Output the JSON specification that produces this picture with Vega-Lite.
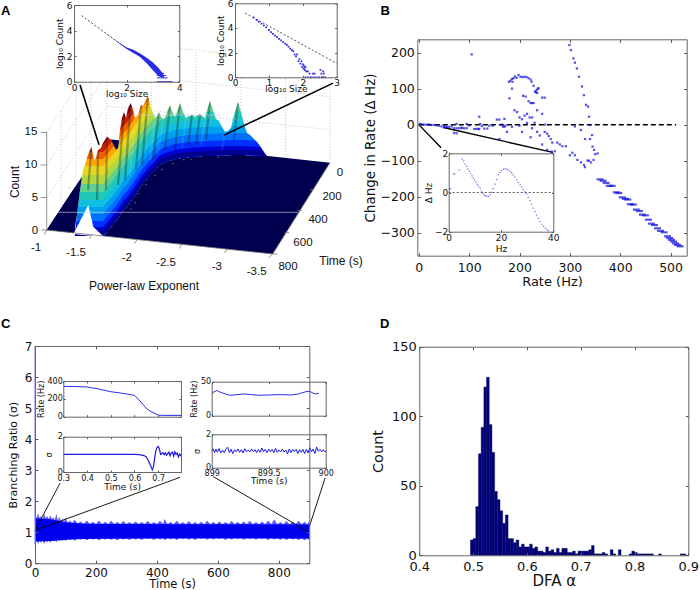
{"$schema":"https://vega.github.io/schema/vega-lite/v6.json","width":700,"height":590,"padding":0,"autosize":{"type":"none"},"background":"white","config":{"view":{"stroke":null},"font":"DejaVu Sans","axis":{"grid":false,"labelFlush":false,"labelOverlap":false,"labelBound":false,"domainColor":"#666666","tickColor":"#555555","labelColor":"#111111","titleColor":"#111111","titleFontWeight":"normal","labelFont":"DejaVu Sans","titleFont":"DejaVu Sans"}},
"datasets":{"surface":[{"x":-1.311,"top":-0.31,"base":-0.92},{"x":-1.333,"top":2.31,"base":-0.92},{"x":-1.367,"top":6.15,"base":-0.92},{"x":-1.4,"top":9.23,"base":-0.92},{"x":-1.422,"top":10,"base":-0.92},{"x":-1.444,"top":11.08,"base":-0.92},{"x":-1.467,"top":12,"base":-0.92},{"x":-1.494,"top":12.77,"base":-0.92},{"x":-1.522,"top":10.77,"base":-0.92},{"x":-1.544,"top":11.08,"base":-0.92},{"x":-1.567,"top":12.31,"base":-0.92},{"x":-1.6,"top":12.62,"base":-0.92},{"x":-1.622,"top":13.38,"base":-0.92},{"x":-1.667,"top":14.35,"base":-0.2},{"x":-1.7,"top":14,"base":0.34},{"x":-1.733,"top":13.69,"base":0.88},{"x":-1.767,"top":12.31,"base":1.42},{"x":-1.789,"top":12.62,"base":1.85},{"x":-1.811,"top":15.38,"base":2.31},{"x":-1.833,"top":17.23,"base":2.77},{"x":-1.856,"top":18.15,"base":3.23},{"x":-1.878,"top":17.23,"base":3.46},{"x":-1.9,"top":18.77,"base":3.85},{"x":-1.93,"top":19.54,"base":4.46},{"x":-1.956,"top":18.46,"base":4.92},{"x":-1.978,"top":17.23,"base":5.38},{"x":-2,"top":17.54,"base":5.85},{"x":-2.022,"top":18.15,"base":6.31},{"x":-2.044,"top":19.23,"base":6.77},{"x":-2.067,"top":19.08,"base":7.23},{"x":-2.089,"top":19.69,"base":7.54},{"x":-2.122,"top":20.62,"base":8.15},{"x":-2.156,"top":18.77,"base":8.62},{"x":-2.178,"top":18,"base":8.92},{"x":-2.2,"top":17.23,"base":9.23},{"x":-2.222,"top":17.54,"base":9.54},{"x":-2.244,"top":18.15,"base":10},{"x":-2.267,"top":17.38,"base":10.15},{"x":-2.289,"top":17.08,"base":10.31},{"x":-2.311,"top":17.23,"base":10.46},{"x":-2.333,"top":18.15,"base":10.54},{"x":-2.367,"top":19.23,"base":10.69},{"x":-2.389,"top":18.31,"base":10.77},{"x":-2.422,"top":17.38,"base":10.92},{"x":-2.444,"top":18.15,"base":10.97},{"x":-2.478,"top":19.54,"base":11.03},{"x":-2.511,"top":18.15,"base":11.11},{"x":-2.544,"top":17.23,"base":11.17},{"x":-2.578,"top":17.54,"base":11.23},{"x":-2.611,"top":17.69,"base":11.26},{"x":-2.644,"top":17.38,"base":11.29},{"x":-2.678,"top":17.69,"base":11.32},{"x":-2.7,"top":17.85,"base":11.34},{"x":-2.733,"top":17.38,"base":11.37},{"x":-2.756,"top":17.23,"base":11.38},{"x":-2.778,"top":18.46,"base":11.4},{"x":-2.811,"top":19.89,"base":11.42},{"x":-2.844,"top":18.46,"base":11.43},{"x":-2.878,"top":17.08,"base":11.45},{"x":-2.911,"top":16.77,"base":11.46},{"x":-2.944,"top":15.85,"base":11.48},{"x":-2.978,"top":15.12,"base":11.49},{"x":-3.011,"top":15.23,"base":11.5},{"x":-3.044,"top":15.69,"base":11.52},{"x":-3.078,"top":17.69,"base":11.54},{"x":-3.122,"top":19.74,"base":11.54},{"x":-3.156,"top":18.15,"base":11.54},{"x":-3.189,"top":16.31,"base":11.52},{"x":-3.222,"top":14.92,"base":11.51},{"x":-3.256,"top":14.62,"base":11.5},{"x":-3.3,"top":14,"base":11.48},{"x":-3.344,"top":13.38,"base":11.45},{"x":-3.389,"top":12.46,"base":11.42},{"x":-3.441,"top":11.38,"base":11.38}]},
"layer":[
{"encoding":{"x":{"field":"x","type":"quantitative","axis":null,"scale":{"domain":[-1,-3.5],"range":[47,272],"nice":false,"zero":false}},"y":{"field":"y","type":"quantitative","axis":null,"scale":{"domain":[0,15],"range":[230,132.5],"nice":false,"zero":false}}},
"layer":[
{"data":{"values":[{"x":-0.997,"y":0,"y2":0},{"x":-1.663,"y":14,"y2":-0.97},{"x":-3.508,"y":11.29,"y2":-3.69},{"x":-4.144,"y":10.35,"y2":10.35}]},"mark":{"type":"area","color":"#00004f"},"encoding":{"y2":{"field":"y2"}}},
{"data":{"name":"surface"},"mark":{"type":"area","color":"#8f0000","yOffset":-100},"encoding":{"y":{"field":"base"},"y2":{"field":"base"}}},
{"data":{"name":"surface"},"mark":{"type":"area","color":"#c82000","yOffset":-91},"encoding":{"y":{"field":"base"},"y2":{"field":"base"}}},
{"data":{"name":"surface"},"mark":{"type":"area","color":"#f06000","yOffset":-84},"encoding":{"y":{"field":"base"},"y2":{"field":"base"}}},
{"data":{"name":"surface"},"mark":{"type":"area","color":"#ffa800","yOffset":-77},"encoding":{"y":{"field":"base"},"y2":{"field":"base"}}},
{"data":{"name":"surface"},"mark":{"type":"area","color":"#e6d820","yOffset":-70},"encoding":{"y":{"field":"base"},"y2":{"field":"base"}}},
{"data":{"name":"surface"},"mark":{"type":"area","color":"#b0d840","yOffset":-61},"encoding":{"y":{"field":"base"},"y2":{"field":"base"}}},
{"data":{"name":"surface"},"mark":{"type":"area","color":"#60d090","yOffset":-52},"encoding":{"y":{"field":"base"},"y2":{"field":"base"}}},
{"data":{"name":"surface"},"mark":{"type":"area","color":"#20c8b8","yOffset":-44},"encoding":{"y":{"field":"base"},"y2":{"field":"base"}}},
{"data":{"name":"surface"},"mark":{"type":"area","color":"#10c0e0","yOffset":-36},"encoding":{"y":{"field":"base"},"y2":{"field":"base"}}},
{"data":{"name":"surface"},"mark":{"type":"area","color":"#00a0f0","yOffset":-29},"encoding":{"y":{"field":"base"},"y2":{"field":"base"}}},
{"data":{"name":"surface"},"mark":{"type":"area","color":"#0070ff","yOffset":-22},"encoding":{"y":{"field":"base"},"y2":{"field":"base"}}},
{"data":{"name":"surface"},"mark":{"type":"area","color":"#0030ff","yOffset":-15},"encoding":{"y":{"field":"base"},"y2":{"field":"base"}}},
{"data":{"name":"surface"},"mark":{"type":"area","color":"#0000d0","yOffset":-9},"encoding":{"y":{"field":"base"},"y2":{"field":"base"}}},
{"data":{"name":"surface"},"mark":{"type":"area","color":"#000090","yOffset":-5},"encoding":{"y":{"field":"base"},"y2":{"field":"base"}}},
{"data":{"values":[{"x":-1.494,"y":12.77,"x2":-1.456,"y2":6.15},{"x":-1.567,"y":12.31,"x2":-1.556,"y2":4.62},{"x":-1.667,"y":14.3,"x2":-1.656,"y2":6.15},{"x":-1.856,"y":18.15,"x2":-1.789,"y2":6.92},{"x":-1.93,"y":19.54,"x2":-1.867,"y2":7.69},{"x":-2.044,"y":19.23,"x2":-1.989,"y2":9.23},{"x":-2.122,"y":20.62,"x2":-2.056,"y2":10},{"x":-2.244,"y":18.15,"x2":-2.178,"y2":10.77},{"x":-2.367,"y":19.23,"x2":-2.311,"y2":12.31},{"x":-2.478,"y":19.54,"x2":-2.422,"y2":12.31},{"x":-2.611,"y":17.69,"x2":-2.567,"y2":13.08},{"x":-2.7,"y":17.85,"x2":-2.656,"y2":13.08},{"x":-2.811,"y":19.89,"x2":-2.767,"y2":13.85},{"x":-3.122,"y":19.74,"x2":-3.078,"y2":13.85}]},"mark":{"type":"rule","color":"#102030","strokeWidth":2.2,"opacity":0.35},"encoding":{"x2":{"field":"x2"},"y2":{"field":"y2"}}},
{"data":{"values":[{"x":-1.978,"y":17.23,"x2":-1.922,"y2":8.46},{"x":-2.2,"y":17.23,"x2":-2.144,"y2":10.77},{"x":-2.289,"y":17.08,"x2":-2.233,"y2":11.54},{"x":-2.544,"y":17.23,"x2":-2.5,"y2":12.62},{"x":-2.756,"y":17.23,"x2":-2.711,"y2":13.08},{"x":-2.978,"y":15.12,"x2":-2.944,"y2":12.31}]},"mark":{"type":"rule","color":"white","strokeWidth":2,"opacity":0.1},"encoding":{"x2":{"field":"x2"},"y2":{"field":"y2"}}},
{"data":{"name":"surface"},"mark":{"type":"area","color":"white"},"encoding":{"y":{"field":"top"},"y2":{"datum":28}}},
{"data":{"values":[{"x":-3.441,"y":11.6,"x2":-3.441,"y2":27.9},{"x":-1.311,"y":6.6,"x2":-1.311,"y2":16}]},"mark":{"type":"rule","color":"white","strokeWidth":1.6},"encoding":{"x2":{"field":"x2"},"y2":{"field":"y2"}}},
{"data":{"values":[{"x":-0.997,"y":0,"y2":0},{"x":-1.3,"y":6.37,"y2":-0.45},{"x":-1.333,"y":7.08,"y2":2.31},{"x":-1.367,"y":7.78,"y2":6.15},{"x":-1.389,"y":8.2,"y2":8.2}]},"mark":{"type":"area","color":"#00004f"},"encoding":{"y2":{"field":"y2"}}},
{"data":{"values":[{"x":-1.711,"y":13.94,"y2":13.94},{"x":-1.767,"y":13.85,"y2":12.31},{"x":-1.789,"y":13.82,"y2":12.62},{"x":-1.802,"y":13.8,"y2":13.8}]},"mark":{"type":"area","color":"#00004f"},"encoding":{"y2":{"field":"y2"}}},
{"data":{"values":[{"x":-1.3,"y":-0.42,"y2":-0.6},{"x":-1.459,"y":3.85,"y2":-0.85},{"x":-1.514,"y":0.51,"y2":-0.95},{"x":-1.622,"y":-0.92,"y2":-1.1}]},"mark":{"type":"area","color":"white"},"encoding":{"y2":{"field":"y2"}}},
{"data":{"values":[{"x":-1.156,"y":3.34,"x2":-1.156,"y2":18.46},{"x":-1.322,"y":6.83,"x2":-1.322,"y2":21.95},{"x":-1.489,"y":12.77,"x2":-1.489,"y2":25.46},{"x":-1.663,"y":14.3,"x2":-1.663,"y2":29.12},{"x":-0.997,"y":10,"x2":-1.663,"y2":24},{"x":-0.997,"y":4.92,"x2":-1.663,"y2":19.08},{"x":-0.997,"y":15.12,"x2":-1.663,"y2":29.08},{"x":-1.663,"y":19.08,"x2":-4.144,"y2":15.43},{"x":-1.663,"y":24.15,"x2":-4.144,"y2":20.51},{"x":-1.663,"y":29.08,"x2":-4.144,"y2":25.54},{"x":-2.16,"y":18.77,"x2":-2.16,"y2":28.35},{"x":-2.656,"y":17.54,"x2":-2.656,"y2":27.62},{"x":-3.153,"y":18.15,"x2":-3.153,"y2":26.89},{"x":-3.65,"y":11.08,"x2":-3.65,"y2":26.15},{"x":-4.144,"y":10.35,"x2":-4.144,"y2":25.43}]},"mark":{"type":"rule","color":"#b8b8b8","strokeWidth":0.8,"strokeDash":[1,2]},"encoding":{"x2":{"field":"x2"},"y2":{"field":"y2"}}},
{"data":{"values":[{"x":-1.122,"y":2.72,"x2":-3.789,"y2":2.72},{"x":-1.956,"y":17.69,"x2":-2.922,"y2":17.69}]},"mark":{"type":"rule","color":"#d0d0e0","strokeWidth":0.8,"opacity":0.8},"encoding":{"x2":{"field":"x2"},"y2":{"field":"y2"}}},
{"data":{"values":[{"x":-0.997,"y":0,"x2":-3.508,"y2":-3.69},{"x":-3.508,"y":-3.69,"x2":-4.144,"y2":10.35},{"x":-0.997,"y":0,"x2":-0.997,"y2":15.12},{"x":-0.997,"y":0,"x2":-0.94,"y2":0},{"x":-0.997,"y":5,"x2":-0.93,"y2":5},{"x":-0.997,"y":10,"x2":-0.93,"y2":10},{"x":-0.997,"y":15,"x2":-0.93,"y2":15},{"x":-0.997,"y":0,"x2":-0.97,"y2":-0.7},{"x":-1.5,"y":-0.75,"x2":-1.47,"y2":-1.35},{"x":-2,"y":-1.5,"x2":-1.97,"y2":-2.1},{"x":-2.5,"y":-2.2,"x2":-2.47,"y2":-2.85},{"x":-3,"y":-2.95,"x2":-2.97,"y2":-3.55},{"x":-3.508,"y":-3.69,"x2":-3.46,"y2":-4.3},{"x":-3.508,"y":-3.69,"x2":-3.56,"y2":-3.69},{"x":-3.64,"y":-0.4,"x2":-3.69,"y2":-0.4},{"x":-3.78,"y":3,"x2":-3.83,"y2":3},{"x":-3.92,"y":6.2,"x2":-3.97,"y2":6.2}]},"mark":{"type":"rule","color":"#777777","strokeWidth":0.8},"encoding":{"x2":{"field":"x2"},"y2":{"field":"y2"}}},
{"data":{"values":[{"x":-1.25,"y":6.5},{"x":-2.02,"y":5.6},{"x":-2.1,"y":7},{"x":-2.2,"y":8.4},{"x":-2.28,"y":9.3},{"x":-2.4,"y":10.2},{"x":-2.52,"y":10.8},{"x":-2.6,"y":10.9},{"x":-2.9,"y":11.2},{"x":-1.98,"y":4.2},{"x":-1.93,"y":3.2}]},"mark":{"type":"circle","color":"#7a90c0","size":2,"opacity":0.8},"encoding":{}},
{"data":{"values":[{"x":-1.367,"y":22.3,"x2":-1.578,"y2":13.1},{"x":-4.178,"y":22.6,"x2":-2.967,"y2":14.6}]},"mark":{"type":"rule","color":"black","strokeWidth":1.6},"encoding":{"x2":{"field":"x2"},"y2":{"field":"y2"}}},
{"data":{"values":[{"x":-0.878,"y":-2.72,"t":"-1"},{"x":-1.322,"y":-3.49,"t":"-1.5"},{"x":-1.886,"y":-4.26,"t":"-2"},{"x":-2.322,"y":-5.03,"t":"-2.5"},{"x":-2.886,"y":-5.74,"t":"-3"},{"x":-3.33,"y":-6.42,"t":"-3.5"},{"x":-3.678,"y":-5.65,"t":"800"},{"x":-3.844,"y":-2,"t":"600"},{"x":-4.011,"y":1.54,"t":"400"},{"x":-4.167,"y":5.08,"t":"200"},{"x":-4.256,"y":8.77,"t":"0"},{"x":-0.822,"y":15.08,"t":"15"},{"x":-0.822,"y":10,"t":"10"},{"x":-0.867,"y":4.92,"t":"5"},{"x":-0.867,"y":-0.15,"t":"0"}]},"mark":{"type":"text","font":"Liberation Sans","fontSize":11.5,"color":"#111111"},"encoding":{"text":{"field":"t"}}},
{"data":{"values":[{"x":-4.267,"y":-4.77,"t":"Time (s)"},{"x":-2.078,"y":-8.62,"t":"Power-law Exponent"}]},"mark":{"type":"text","font":"Liberation Sans","fontSize":12,"color":"#111111"},"encoding":{"text":{"field":"t"}}},
{"data":{"values":[{"x":-0.644,"y":7.38,"t":"Count"}]},"mark":{"type":"text","font":"Liberation Sans","fontSize":12,"color":"#111111","angle":270},"encoding":{"text":{"field":"t"}}}
]},
{"encoding":{"x":{"field":"x","type":"quantitative","scale":{"domain":[0,4],"range":[74,179.3],"nice":false,"zero":false},"axis":{"zindex":1,"orient":"bottom","offset":-508.3,"values":[0,2,4],"tickSize":-2,"labelPadding":4,"labelFontSize":9,"title":"log₁₀ Size","titleFontSize":9,"titlePadding":-3}},"y":{"field":"y","type":"quantitative","scale":{"domain":[0,6],"range":[81.7,5],"nice":false,"zero":false},"axis":{"zindex":1,"orient":"left","offset":-74,"values":[0,2,4,6],"tickSize":-2,"labelPadding":4,"labelFontSize":9,"title":"log₁₀ Count","titleFontSize":9,"titlePadding":2}}},
"layer":[
{"data":{"values":[{"x":0,"y":0,"x2":4,"y2":6}]},"mark":{"type":"rect","color":"white"},"encoding":{"x2":{"field":"x2"},"y2":{"field":"y2"}}},
{"data":{"values":[{"x":0.29,"y":5.17},{"x":1,"y":4.1},{"x":2,"y":2.61}]},"mark":{"type":"line","color":"#222222","strokeWidth":0.8,"strokeDash":[2,2]},"encoding":{}},
{"data":{"values":[{"x":0.9,"y":4.22,"y2":4.22},{"x":1.5,"y":3.35,"y2":3.33},{"x":2,"y":2.68,"y2":2.56},{"x":2.25,"y":2.5,"y2":2.25},{"x":2.5,"y":2.22,"y2":1.95},{"x":2.76,"y":1.88,"y2":1.45},{"x":3,"y":1.5,"y2":0.9},{"x":3.2,"y":1.1,"y2":0.45},{"x":3.35,"y":0.72,"y2":0.32},{"x":3.42,"y":0.4,"y2":0.3}]},"mark":{"type":"area","color":"#2a2ae6"},"encoding":{"y2":{"field":"y2"}}},
{"data":{"values":[{"x":3.15,"y":0,"g":"a"},{"x":3.75,"y":0,"g":"a"},{"x":3.15,"y":0.3,"g":"b"},{"x":3.55,"y":0.3,"g":"b"},{"x":3.15,"y":0.48,"g":"c"},{"x":3.5,"y":0.48,"g":"c"},{"x":3.15,"y":0.65,"g":"d"},{"x":3.42,"y":0.65,"g":"d"}]},"mark":{"type":"line","color":"#2a2ae6","strokeWidth":1},"encoding":{"detail":{"field":"g"}}}
]},
{"data":{"values":[{"x":0,"y":0}]},"mark":{"type":"point","opacity":0},"encoding":{"x":{"field":"x","type":"quantitative","scale":{"domain":[0,4],"range":[74,179.3],"nice":false,"zero":false},"axis":{"zindex":1,"orient":"top","offset":-5,"values":[0,2,4],"tickSize":-2,"labels":false,"title":null}},"y":{"field":"y","type":"quantitative","scale":{"domain":[0,6],"range":[81.7,5],"nice":false,"zero":false},"axis":{"zindex":1,"orient":"right","offset":-520.7,"values":[0,2,4,6],"tickSize":-2,"labels":false,"title":null}}}},
{"encoding":{"x":{"field":"x","type":"quantitative","scale":{"domain":[0,3],"range":[235,336.7],"nice":false,"zero":false},"axis":{"zindex":1,"orient":"bottom","offset":-512.7,"values":[0,1,2,3],"tickSize":-2,"labelPadding":3,"labelFontSize":9,"title":"log₁₀ Size","titleFontSize":9,"titlePadding":-3}},"y":{"field":"y","type":"quantitative","scale":{"domain":[0,6],"range":[77.3,3.3],"nice":false,"zero":false},"axis":{"zindex":1,"orient":"left","offset":-235,"values":[0,2,4,6],"tickSize":-2,"labelPadding":4,"labelFontSize":9,"title":"log₁₀ Count","titleFontSize":9,"titlePadding":2}}},
"layer":[
{"data":{"values":[{"x":0,"y":0,"x2":3,"y2":6}]},"mark":{"type":"rect","color":"white"},"encoding":{"x2":{"field":"x2"},"y2":{"field":"y2"}}},
{"data":{"values":[{"x":0.3,"y":5.2},{"x":3,"y":1.13}]},"mark":{"type":"line","color":"#222222","strokeWidth":0.8,"strokeDash":[2,2]},"encoding":{}},
{"data":{"values":[{"x":0.55,"y":4.85},{"x":0.64,"y":4.65},{"x":0.7,"y":4.5},{"x":0.78,"y":4.35},{"x":0.85,"y":4.2},{"x":0.92,"y":4.05},{"x":1,"y":3.82},{"x":1.06,"y":3.67},{"x":1.12,"y":3.52},{"x":1.18,"y":3.38},{"x":1.24,"y":3.25},{"x":1.3,"y":3.12},{"x":1.36,"y":3},{"x":1.42,"y":2.85},{"x":1.48,"y":2.72},{"x":1.53,"y":2.62},{"x":1.58,"y":2.48},{"x":1.63,"y":2.32},{"x":1.68,"y":2.2},{"x":1.72,"y":2.1},{"x":1.76,"y":1.85},{"x":1.8,"y":1.7},{"x":1.83,"y":1.85},{"x":1.87,"y":1.3},{"x":1.9,"y":1.48},{"x":1.93,"y":1.1},{"x":1.96,"y":1.3},{"x":1.98,"y":0.85},{"x":2,"y":1.05},{"x":2.02,"y":0.7},{"x":2.03,"y":0.95},{"x":2.05,"y":0.78},{"x":2.06,"y":0.6},{"x":2.08,"y":0.85},{"x":2.1,"y":0.48},{"x":2.15,"y":0.48},{"x":2.2,"y":0.3},{"x":2.3,"y":0.3},{"x":2.35,"y":0.3},{"x":2.08,"y":0},{"x":2.16,"y":0},{"x":2.24,"y":0},{"x":2.32,"y":0},{"x":2.4,"y":0},{"x":2.48,"y":0},{"x":2.56,"y":0},{"x":2.6,"y":0},{"x":2.66,"y":0},{"x":2.55,"y":0.3},{"x":2.52,"y":0.6},{"x":2.6,"y":0.48},{"x":2.62,"y":0.3}]},"mark":{"type":"square","color":"#1515e8","size":3,"opacity":0.9},"encoding":{}}
]},
{"data":{"values":[{"x":0,"y":0}]},"mark":{"type":"point","opacity":0},"encoding":{"x":{"field":"x","type":"quantitative","scale":{"domain":[0,3],"range":[235,336.7],"nice":false,"zero":false},"axis":{"zindex":1,"orient":"top","offset":-3.3,"values":[0,1,2,3],"tickSize":-2,"labels":false,"title":null}},"y":{"field":"y","type":"quantitative","scale":{"domain":[0,6],"range":[77.3,3.3],"nice":false,"zero":false},"axis":{"zindex":1,"orient":"right","offset":-363.3,"values":[0,2,4,6],"tickSize":-2,"labels":false,"title":null}}}},
{"encoding":{"x":{"field":"x","type":"quantitative","scale":{"domain":[-3,532],"range":[417.3,686.7],"nice":false,"zero":false},"axis":{"zindex":1,"orient":"bottom","offset":-334.3,"values":[0,100,200,300,400,500],"tickSize":-3,"labelPadding":9,"labelFontSize":12.5,"title":"Rate (Hz)","titleFontSize":13,"titlePadding":1}},"y":{"field":"y","type":"quantitative","scale":{"domain":[-364,237],"range":[255.7,39.3],"nice":false,"zero":false},"axis":{"zindex":1,"orient":"left","offset":-417.3,"values":[-300,-200,-100,0,100,200],"tickSize":-3,"labelPadding":6,"labelFontSize":12.5,"title":"Change in Rate (Δ Hz)","titleFontSize":13.5,"titlePadding":2}}},
"layer":[
{"data":{"values":[{"x":0,"y":0,"x2":511,"y2":0}]},"mark":{"type":"rule","color":"black","strokeWidth":1.5,"strokeDash":[5,3]},"encoding":{"x2":{"field":"x2"},"y2":{"field":"y2"}}},
{"data":{"values":[{"x":0,"y":0,"x2":44.3,"y2":-64},{"x":49,"y":-8,"x2":266,"y2":-77}]},"mark":{"type":"rule","color":"black","strokeWidth":1.4},"encoding":{"x2":{"field":"x2"},"y2":{"field":"y2"}}},
{"data":{"values":[{"x":105,"y":195},{"x":2,"y":2},{"x":5,"y":1},{"x":10,"y":0},{"x":15,"y":0},{"x":20,"y":0},{"x":25,"y":-1},{"x":30,"y":-1},{"x":35,"y":-2},{"x":40,"y":-3},{"x":45,"y":-5},{"x":50,"y":-7},{"x":55,"y":-6},{"x":60,"y":-6},{"x":65,"y":-5},{"x":70,"y":-10},{"x":75,"y":-10},{"x":80,"y":-10},{"x":85,"y":-10},{"x":90,"y":-10},{"x":95,"y":-10},{"x":55,"y":-8},{"x":85,"y":-8},{"x":110,"y":-12},{"x":114,"y":-12},{"x":118,"y":-12},{"x":120,"y":-12},{"x":100,"y":-2},{"x":125,"y":-4},{"x":130,"y":-11},{"x":136,"y":-11},{"x":140,"y":-3},{"x":147,"y":-3},{"x":122,"y":2},{"x":120,"y":22},{"x":155,"y":14},{"x":160,"y":14},{"x":170,"y":16},{"x":167,"y":-5},{"x":165,"y":0},{"x":170,"y":-6},{"x":175,"y":-20},{"x":160,"y":-40},{"x":172,"y":-3},{"x":70,"y":-23},{"x":75,"y":-24},{"x":95,"y":2},{"x":75,"y":2},{"x":50,"y":-2},{"x":180,"y":73},{"x":185,"y":100},{"x":190,"y":40},{"x":195,"y":35},{"x":200,"y":20},{"x":205,"y":15},{"x":210,"y":25},{"x":215,"y":30},{"x":220,"y":20},{"x":207,"y":80},{"x":212,"y":78},{"x":218,"y":65},{"x":222,"y":60},{"x":225,"y":60},{"x":228,"y":60},{"x":225,"y":20},{"x":235,"y":40},{"x":245,"y":30},{"x":250,"y":75},{"x":245,"y":75},{"x":232,"y":90},{"x":236,"y":100},{"x":225,"y":-10},{"x":235,"y":-20},{"x":222,"y":-35},{"x":205,"y":-20},{"x":240,"y":-30},{"x":250,"y":-20},{"x":255,"y":-25},{"x":258,"y":-32},{"x":262,"y":-40},{"x":245,"y":-55},{"x":265,"y":-50},{"x":255,"y":-70},{"x":185,"y":-6},{"x":200,"y":-3},{"x":215,"y":5},{"x":230,"y":5},{"x":250,"y":0},{"x":179,"y":119},{"x":182,"y":122},{"x":185,"y":127},{"x":188,"y":129},{"x":186,"y":119},{"x":191,"y":134},{"x":194,"y":130},{"x":198,"y":138},{"x":202,"y":133},{"x":206,"y":132},{"x":210,"y":133},{"x":214,"y":132},{"x":218,"y":129},{"x":222,"y":125},{"x":224,"y":119},{"x":228,"y":108},{"x":231,"y":92},{"x":234,"y":96},{"x":238,"y":101},{"x":235,"y":88},{"x":299,"y":221},{"x":302,"y":207},{"x":307,"y":184},{"x":310,"y":172},{"x":314,"y":156},{"x":318,"y":133},{"x":324,"y":106},{"x":328,"y":82},{"x":332,"y":55},{"x":336,"y":50},{"x":338,"y":22},{"x":340,"y":-1},{"x":344,"y":-29},{"x":345,"y":-61},{"x":264,"y":-75},{"x":270,"y":-74},{"x":275,"y":-50},{"x":280,"y":-55},{"x":285,"y":-60},{"x":292,"y":-60},{"x":300,"y":-85},{"x":305,"y":-78},{"x":310,"y":-85},{"x":315,"y":-98},{"x":322,"y":-105},{"x":328,"y":-112},{"x":330,"y":-118},{"x":335,"y":-100},{"x":338,"y":-100},{"x":342,"y":-105},{"x":347,"y":-98},{"x":350,"y":-82},{"x":348,"y":-70},{"x":355,"y":-80},{"x":340,"y":-40},{"x":330,"y":-40},{"x":310,"y":-5},{"x":322,"y":-15}]},"mark":{"type":"square","color":"#0a0ae0","size":5},"encoding":{}},
{"data":{"values":[{"x":360,"y":-152},{"x":366,"y":-156},{"x":372,"y":-162},{"x":378,"y":-170},{"x":384,"y":-170},{"x":392,"y":-188},{"x":397,"y":-190},{"x":404,"y":-202},{"x":410,"y":-206},{"x":415,"y":-208},{"x":420,"y":-221},{"x":426,"y":-222},{"x":432,"y":-236},{"x":438,"y":-240},{"x":444,"y":-250},{"x":450,"y":-252},{"x":456,"y":-264},{"x":462,"y":-275},{"x":468,"y":-279},{"x":474,"y":-288},{"x":480,"y":-295},{"x":487,"y":-299},{"x":494,"y":-310},{"x":498,"y":-315},{"x":502,"y":-320},{"x":506,"y":-325},{"x":510,"y":-330},{"x":514,"y":-334},{"x":519,"y":-338}]},"mark":{"type":"tick","orient":"horizontal","color":"#0a0ae0","size":7,"thickness":2.2},"encoding":{}}
]},
{"data":{"values":[{"x":0,"y":0}]},"mark":{"type":"point","opacity":0},"encoding":{"x":{"field":"x","type":"quantitative","scale":{"domain":[-3,532],"range":[417.3,686.7],"nice":false,"zero":false},"axis":{"zindex":1,"orient":"top","offset":-39.3,"values":[0,100,200,300,400,500],"tickSize":-3,"labels":false,"title":null}},"y":{"field":"y","type":"quantitative","scale":{"domain":[-364,237],"range":[255.7,39.3],"nice":false,"zero":false},"axis":{"zindex":1,"orient":"right","offset":-13.3,"values":[-300,-200,-100,0,100,200],"tickSize":-3,"labels":false,"title":null}}}},
{"encoding":{"x":{"field":"x","type":"quantitative","scale":{"domain":[0,40],"range":[448.7,553.3],"nice":false,"zero":false},"axis":{"zindex":1,"orient":"bottom","offset":-358.3,"values":[0,20,40],"tickSize":-2,"labelPadding":4,"labelFontSize":9,"title":"Hz","titleFontSize":9,"titlePadding":2}},"y":{"field":"y","type":"quantitative","scale":{"domain":[-2,2],"range":[231.7,153.3],"nice":false,"zero":false},"axis":{"zindex":1,"orient":"left","offset":-448.7,"values":[-2,0,2],"tickSize":-2,"labelPadding":3,"labelFontSize":9,"title":"Δ Hz","titleFontSize":9,"titlePadding":1}}},
"layer":[
{"data":{"values":[{"x":0,"y":-2,"x2":40,"y2":2}]},"mark":{"type":"rect","color":"white"},"encoding":{"x2":{"field":"x2"},"y2":{"field":"y2"}}},
{"data":{"values":[{"x":0,"y":0,"x2":40,"y2":0}]},"mark":{"type":"rule","color":"#333333","strokeWidth":0.8,"strokeDash":[2,2]},"encoding":{"x2":{"field":"x2"},"y2":{"field":"y2"}}},
{"data":{"values":[{"x":0.3,"y":0.19},{"x":0.7,"y":0.19},{"x":1.8,"y":0.95},{"x":2.4,"y":0.95},{"x":4,"y":1.16},{"x":5.2,"y":1.7},{"x":5.7,"y":1.6},{"x":6.3,"y":1.45},{"x":6.9,"y":1.33},{"x":7.4,"y":1.2},{"x":7.9,"y":1.08},{"x":8.4,"y":0.97},{"x":8.9,"y":0.85},{"x":9.4,"y":0.73},{"x":9.9,"y":0.63},{"x":10.4,"y":0.52},{"x":10.9,"y":0.42},{"x":11.4,"y":0.32},{"x":12,"y":0.22},{"x":12.5,"y":0.08},{"x":13,"y":-0.03},{"x":13.5,"y":-0.12},{"x":14,"y":-0.17},{"x":14.6,"y":-0.2},{"x":15.2,"y":-0.2},{"x":15.8,"y":-0.12},{"x":16.4,"y":0},{"x":17,"y":0.2},{"x":17.7,"y":0.43},{"x":18.3,"y":0.66},{"x":19,"y":0.9},{"x":19.6,"y":1.02},{"x":20.2,"y":1.12},{"x":20.9,"y":1.19},{"x":21.5,"y":1.2},{"x":22.2,"y":1.19},{"x":22.8,"y":1.16},{"x":23.5,"y":1.08},{"x":24.1,"y":1},{"x":24.7,"y":0.9},{"x":25.3,"y":0.78},{"x":26,"y":0.65},{"x":26.6,"y":0.52},{"x":27.3,"y":0.39},{"x":27.9,"y":0.27},{"x":28.5,"y":0.15},{"x":29.2,"y":0.03},{"x":29.8,"y":-0.07},{"x":30.4,"y":-0.25},{"x":31,"y":-0.42},{"x":31.7,"y":-0.6},{"x":32.4,"y":-0.8},{"x":33,"y":-0.98},{"x":33.6,"y":-1.15},{"x":34.3,"y":-1.32},{"x":34.9,"y":-1.48},{"x":35.6,"y":-1.62},{"x":36.3,"y":-1.73},{"x":37,"y":-1.82},{"x":37.6,"y":-1.9},{"x":38.1,"y":-1.94}]},"mark":{"type":"square","color":"#3030e0","size":1.5},"encoding":{}}
]},
{"data":{"values":[{"x":0,"y":0}]},"mark":{"type":"point","opacity":0},"encoding":{"x":{"field":"x","type":"quantitative","scale":{"domain":[0,40],"range":[448.7,553.3],"nice":false,"zero":false},"axis":{"zindex":1,"orient":"top","offset":-153.3,"values":[0,20,40],"tickSize":-2,"labels":false,"title":null}},"y":{"field":"y","type":"quantitative","scale":{"domain":[-2,2],"range":[231.7,153.3],"nice":false,"zero":false},"axis":{"zindex":1,"orient":"right","offset":-146.7,"values":[-2,0,2],"tickSize":-2,"labels":false,"title":null}}}},
{"encoding":{"x":{"field":"x","type":"quantitative","scale":{"domain":[0,900],"range":[35,309.3],"nice":false,"zero":false},"axis":{"zindex":1,"orient":"bottom","offset":-26.7,"values":[0,200,400,600,800],"tickSize":-3,"labelPadding":7,"labelFontSize":12,"title":"Time (s)","titleFontSize":11.5,"titlePadding":0}},"y":{"field":"y","type":"quantitative","scale":{"domain":[0,7],"range":[563.3,346],"nice":false,"zero":false},"axis":{"zindex":1,"orient":"left","offset":-35,"values":[0,1,2,3,4,5,6,7],"tickSize":-3,"labelPadding":6,"labelFontSize":12,"title":"Branching Ratio (σ)","titleFontSize":11,"titlePadding":6}}},
"layer":[
{"data":{"values":[{"x":0,"y":0.6,"x2":0,"y2":7}]},"mark":{"type":"rule","color":"#7070ff","strokeWidth":1},"encoding":{"x2":{"field":"x2"},"y2":{"field":"y2"}}},
{"data":{"values":[{"x":1,"y":1.55,"y2":0.66},{"x":5,"y":1.44,"y2":0.74},{"x":10,"y":1.62,"y2":0.62},{"x":15,"y":1.45,"y2":0.73},{"x":20,"y":1.52,"y2":0.66},{"x":25,"y":1.43,"y2":0.74},{"x":30,"y":1.6,"y2":0.62},{"x":35,"y":1.44,"y2":0.73},{"x":40,"y":1.52,"y2":0.68},{"x":45,"y":1.43,"y2":0.74},{"x":50,"y":1.55,"y2":0.65},{"x":55,"y":1.42,"y2":0.75},{"x":60,"y":1.48,"y2":0.7},{"x":65,"y":1.4,"y2":0.75},{"x":70,"y":1.6,"y2":0.68},{"x":75,"y":1.38,"y2":0.76},{"x":80,"y":1.5,"y2":0.71},{"x":85,"y":1.35,"y2":0.77},{"x":90,"y":1.45,"y2":0.72},{"x":95,"y":1.33,"y2":0.78},{"x":100,"y":1.47,"y2":0.72},{"x":108,"y":1.3,"y2":0.79},{"x":115,"y":1.38,"y2":0.75},{"x":122,"y":1.29,"y2":0.8},{"x":130,"y":1.4,"y2":0.73},{"x":140,"y":1.28,"y2":0.8},{"x":150,"y":1.35,"y2":0.76},{"x":160,"y":1.27,"y2":0.8},{"x":170,"y":1.38,"y2":0.74},{"x":180,"y":1.27,"y2":0.8},{"x":190,"y":1.34,"y2":0.77},{"x":200,"y":1.27,"y2":0.8},{"x":210,"y":1.38,"y2":0.74},{"x":220,"y":1.27,"y2":0.8},{"x":230,"y":1.34,"y2":0.77},{"x":240,"y":1.27,"y2":0.8},{"x":250,"y":1.37,"y2":0.76},{"x":260,"y":1.27,"y2":0.8},{"x":270,"y":1.33,"y2":0.74},{"x":280,"y":1.27,"y2":0.8},{"x":290,"y":1.36,"y2":0.77},{"x":300,"y":1.27,"y2":0.8},{"x":310,"y":1.33,"y2":0.75},{"x":320,"y":1.27,"y2":0.81},{"x":330,"y":1.35,"y2":0.77},{"x":340,"y":1.27,"y2":0.81},{"x":350,"y":1.33,"y2":0.75},{"x":360,"y":1.27,"y2":0.81},{"x":370,"y":1.36,"y2":0.78},{"x":380,"y":1.27,"y2":0.81},{"x":390,"y":1.33,"y2":0.75},{"x":400,"y":1.27,"y2":0.81},{"x":410,"y":1.37,"y2":0.77},{"x":420,"y":1.27,"y2":0.81},{"x":425,"y":1.43,"y2":0.74},{"x":435,"y":1.27,"y2":0.81},{"x":445,"y":1.33,"y2":0.77},{"x":455,"y":1.26,"y2":0.81},{"x":465,"y":1.37,"y2":0.75},{"x":475,"y":1.26,"y2":0.81},{"x":485,"y":1.33,"y2":0.78},{"x":495,"y":1.26,"y2":0.81},{"x":505,"y":1.36,"y2":0.76},{"x":515,"y":1.26,"y2":0.81},{"x":525,"y":1.33,"y2":0.75},{"x":535,"y":1.26,"y2":0.81},{"x":545,"y":1.34,"y2":0.78},{"x":555,"y":1.26,"y2":0.81},{"x":565,"y":1.37,"y2":0.76},{"x":575,"y":1.26,"y2":0.81},{"x":585,"y":1.33,"y2":0.77},{"x":595,"y":1.26,"y2":0.81},{"x":605,"y":1.35,"y2":0.78},{"x":615,"y":1.26,"y2":0.81},{"x":625,"y":1.33,"y2":0.75},{"x":635,"y":1.26,"y2":0.81},{"x":645,"y":1.36,"y2":0.77},{"x":655,"y":1.26,"y2":0.81},{"x":665,"y":1.33,"y2":0.78},{"x":675,"y":1.26,"y2":0.81},{"x":685,"y":1.35,"y2":0.76},{"x":695,"y":1.26,"y2":0.81},{"x":705,"y":1.37,"y2":0.78},{"x":715,"y":1.26,"y2":0.81},{"x":725,"y":1.33,"y2":0.76},{"x":735,"y":1.26,"y2":0.81},{"x":745,"y":1.35,"y2":0.78},{"x":755,"y":1.26,"y2":0.81},{"x":765,"y":1.38,"y2":0.75},{"x":775,"y":1.26,"y2":0.81},{"x":785,"y":1.41,"y2":0.77},{"x":795,"y":1.26,"y2":0.81},{"x":805,"y":1.33,"y2":0.76},{"x":815,"y":1.26,"y2":0.81},{"x":825,"y":1.36,"y2":0.75},{"x":835,"y":1.26,"y2":0.81},{"x":845,"y":1.34,"y2":0.77},{"x":855,"y":1.26,"y2":0.8},{"x":865,"y":1.37,"y2":0.75},{"x":875,"y":1.26,"y2":0.8},{"x":885,"y":1.34,"y2":0.74},{"x":893,"y":1.25,"y2":0.8},{"x":900,"y":1.36,"y2":0.75}]},"mark":{"type":"area","color":"#5a5aff"},"encoding":{"y2":{"field":"y2"}}},
{"data":{"values":[{"x":1,"y":1.45,"y2":0.7},{"x":50,"y":1.42,"y2":0.72},{"x":100,"y":1.32,"y2":0.76},{"x":150,"y":1.28,"y2":0.78},{"x":200,"y":1.27,"y2":0.79},{"x":300,"y":1.27,"y2":0.8},{"x":500,"y":1.26,"y2":0.81},{"x":700,"y":1.26,"y2":0.81},{"x":900,"y":1.25,"y2":0.8}]},"mark":{"type":"area","color":"#0000f0"},"encoding":{"y2":{"field":"y2"}}},
{"data":{"values":[{"x":0,"y":1.06,"x2":82,"y2":2.58},{"x":0,"y":1.06,"x2":476,"y2":2.77},{"x":900,"y":1,"x2":585,"y2":2.79},{"x":900,"y":1.18,"x2":952,"y2":2.75}]},"mark":{"type":"rule","color":"black","strokeWidth":0.9},"encoding":{"x2":{"field":"x2"},"y2":{"field":"y2"}}}
]},
{"data":{"values":[{"x":0,"y":0}]},"mark":{"type":"point","opacity":0},"encoding":{"x":{"field":"x","type":"quantitative","scale":{"domain":[0,900],"range":[35,309.3],"nice":false,"zero":false},"axis":{"zindex":1,"orient":"top","offset":-346,"values":[0,200,400,600,800],"tickSize":-3,"labels":false,"title":null}},"y":{"field":"y","type":"quantitative","scale":{"domain":[0,7],"range":[563.3,346],"nice":false,"zero":false},"axis":{"zindex":1,"orient":"right","offset":-390.7,"values":[0,1,2,3,4,5,6,7],"tickSize":-3,"labels":false,"title":null}}}},
{"data":{"values":[{"x":0.3,"y":340},{"x":0.35,"y":338},{"x":0.4,"y":333},{"x":0.45,"y":310},{"x":0.5,"y":280},{"x":0.55,"y":262},{"x":0.6,"y":239},{"x":0.62,"y":187},{"x":0.65,"y":93},{"x":0.67,"y":56},{"x":0.7,"y":18},{"x":0.72,"y":15},{"x":0.796,"y":15}]},"mark":{"type":"line","color":"#2a2af0","strokeWidth":1},"encoding":{"x":{"field":"x","type":"quantitative","scale":{"domain":[0.3,0.796],"range":[63.3,181],"nice":false,"zero":false},"axis":{"zindex":1,"orient":"bottom","offset":-173.3,"values":[0.3,0.4,0.5,0.6,0.7],"tickSize":-2,"labels":false,"title":null}},"y":{"field":"y","type":"quantitative","scale":{"domain":[0,400],"range":[416.7,381],"nice":false,"zero":false},"axis":{"zindex":1,"orient":"left","offset":-63.3,"values":[0,200,400],"tickSize":-2,"labelPadding":3,"labelFontSize":8,"title":"Rate (Hz)","titleFontSize":8,"titlePadding":2}}}},
{"data":{"values":[{"x":0,"y":0}]},"mark":{"type":"point","opacity":0},"encoding":{"x":{"field":"x","type":"quantitative","scale":{"domain":[0.3,0.796],"range":[63.3,181],"nice":false,"zero":false},"axis":{"zindex":1,"orient":"top","offset":-381,"values":[0.3,0.4,0.5,0.6,0.7],"tickSize":-2,"labels":false,"title":null}},"y":{"field":"y","type":"quantitative","scale":{"domain":[0,400],"range":[416.7,381],"nice":false,"zero":false},"axis":{"zindex":1,"orient":"right","offset":-519,"values":[0,200,400],"tickSize":-2,"labels":false,"title":null}}}},
{"data":{"values":[{"x":0.3,"y":1},{"x":0.4,"y":1},{"x":0.5,"y":1},{"x":0.58,"y":1},{"x":0.6,"y":1},{"x":0.62,"y":0.98},{"x":0.64,"y":0.93},{"x":0.65,"y":0.85},{"x":0.66,"y":0.6},{"x":0.67,"y":0.3},{"x":0.675,"y":0.12},{"x":0.68,"y":0.3},{"x":0.685,"y":0.8},{"x":0.69,"y":1.2},{"x":0.695,"y":1.4},{"x":0.7,"y":1.45},{"x":0.705,"y":1.3},{"x":0.71,"y":1},{"x":0.715,"y":1.05},{"x":0.72,"y":1.1},{"x":0.725,"y":0.98},{"x":0.73,"y":1.08},{"x":0.735,"y":0.95},{"x":0.74,"y":1.05},{"x":0.745,"y":1.12},{"x":0.75,"y":0.92},{"x":0.755,"y":1.08},{"x":0.76,"y":1.12},{"x":0.765,"y":0.9},{"x":0.77,"y":1.15},{"x":0.775,"y":1},{"x":0.78,"y":1.08},{"x":0.785,"y":0.85},{"x":0.79,"y":1.02},{"x":0.796,"y":0.9}]},"mark":{"type":"line","color":"#1a1ae6","strokeWidth":1.2},"encoding":{"x":{"field":"x","type":"quantitative","scale":{"domain":[0.3,0.796],"range":[63.3,181],"nice":false,"zero":false},"axis":{"zindex":1,"orient":"bottom","offset":-118,"values":[0.3,0.4,0.5,0.6,0.7],"format":".1f","tickSize":-2,"labelPadding":4,"labelFontSize":8,"title":"Time (s)","titleFontSize":9,"titlePadding":0}},"y":{"field":"y","type":"quantitative","scale":{"domain":[0,2],"range":[472,436.7],"nice":false,"zero":false},"axis":{"zindex":1,"orient":"left","offset":-63.3,"values":[0,1,2],"format":"d","tickSize":-2,"labelPadding":3,"labelFontSize":8,"title":"σ","titleFontSize":8,"titlePadding":4}}}},
{"data":{"values":[{"x":0,"y":0}]},"mark":{"type":"point","opacity":0},"encoding":{"x":{"field":"x","type":"quantitative","scale":{"domain":[0.3,0.796],"range":[63.3,181],"nice":false,"zero":false},"axis":{"zindex":1,"orient":"top","offset":-436.7,"values":[0.3,0.4,0.5,0.6,0.7],"tickSize":-2,"labels":false,"title":null}},"y":{"field":"y","type":"quantitative","scale":{"domain":[0,2],"range":[472,436.7],"nice":false,"zero":false},"axis":{"zindex":1,"orient":"right","offset":-519,"values":[0,1,2],"tickSize":-2,"labels":false,"title":null}}}},
{"data":{"values":[{"x":899,"y":32},{"x":899.02,"y":35},{"x":899.045,"y":37},{"x":899.07,"y":35},{"x":899.1,"y":33},{"x":899.16,"y":30},{"x":899.22,"y":31},{"x":899.28,"y":32},{"x":899.35,"y":31},{"x":899.42,"y":30},{"x":899.5,"y":30.5},{"x":899.6,"y":31},{"x":899.7,"y":30.5},{"x":899.76,"y":32},{"x":899.82,"y":35},{"x":899.86,"y":36},{"x":899.89,"y":33},{"x":899.91,"y":32},{"x":899.94,"y":33}]},"mark":{"type":"line","color":"#2a2af0","strokeWidth":1},"encoding":{"x":{"field":"x","type":"quantitative","scale":{"domain":[899,900],"range":[211.7,325.7],"nice":false,"zero":false},"axis":{"zindex":1,"orient":"bottom","offset":-174.3,"values":[899,899.5,900],"tickSize":-2,"labels":false,"title":null}},"y":{"field":"y","type":"quantitative","scale":{"domain":[0,50],"range":[415.7,381.7],"nice":false,"zero":false},"axis":{"zindex":1,"orient":"left","offset":-211.7,"values":[0,50],"tickSize":-2,"labelPadding":3,"labelFontSize":8,"title":"Rate (Hz)","titleFontSize":8,"titlePadding":2}}}},
{"data":{"values":[{"x":0,"y":0}]},"mark":{"type":"point","opacity":0},"encoding":{"x":{"field":"x","type":"quantitative","scale":{"domain":[899,900],"range":[211.7,325.7],"nice":false,"zero":false},"axis":{"zindex":1,"orient":"top","offset":-381.7,"values":[899,899.5,900],"tickSize":-2,"labels":false,"title":null}},"y":{"field":"y","type":"quantitative","scale":{"domain":[0,50],"range":[415.7,381.7],"nice":false,"zero":false},"axis":{"zindex":1,"orient":"right","offset":-374.3,"values":[0,50],"tickSize":-2,"labels":false,"title":null}}}},
{"data":{"values":[{"x":899,"y":1},{"x":899.012,"y":1.14},{"x":899.025,"y":0.9},{"x":899.038,"y":1.12},{"x":899.05,"y":0.92},{"x":899.065,"y":1.15},{"x":899.08,"y":0.88},{"x":899.095,"y":1.05},{"x":899.11,"y":0.9},{"x":899.125,"y":1.14},{"x":899.14,"y":1.22},{"x":899.155,"y":0.9},{"x":899.17,"y":1.1},{"x":899.185,"y":0.84},{"x":899.2,"y":1.08},{"x":899.215,"y":0.95},{"x":899.23,"y":1.12},{"x":899.245,"y":0.92},{"x":899.26,"y":1.08},{"x":899.275,"y":0.88},{"x":899.29,"y":1.14},{"x":899.305,"y":0.95},{"x":899.32,"y":1.05},{"x":899.335,"y":0.94},{"x":899.35,"y":1.12},{"x":899.365,"y":0.96},{"x":899.38,"y":1.08},{"x":899.395,"y":0.9},{"x":899.41,"y":1.1},{"x":899.425,"y":0.92},{"x":899.44,"y":1.18},{"x":899.455,"y":0.96},{"x":899.47,"y":1.1},{"x":899.485,"y":0.9},{"x":899.5,"y":1.12},{"x":899.515,"y":0.95},{"x":899.53,"y":1.1},{"x":899.545,"y":0.9},{"x":899.56,"y":1.16},{"x":899.575,"y":0.92},{"x":899.59,"y":1.06},{"x":899.605,"y":0.95},{"x":899.62,"y":1.12},{"x":899.635,"y":0.94},{"x":899.65,"y":1.06},{"x":899.665,"y":0.82},{"x":899.68,"y":1.12},{"x":899.695,"y":0.9},{"x":899.71,"y":1.1},{"x":899.725,"y":0.96},{"x":899.74,"y":1.1},{"x":899.755,"y":0.85},{"x":899.77,"y":1.08},{"x":899.785,"y":0.92},{"x":899.8,"y":1.1},{"x":899.815,"y":0.85},{"x":899.83,"y":1.1},{"x":899.845,"y":0.88},{"x":899.86,"y":1.2},{"x":899.875,"y":0.95},{"x":899.89,"y":1.12},{"x":899.905,"y":0.85},{"x":899.92,"y":1.24},{"x":899.935,"y":0.98},{"x":899.95,"y":1.1},{"x":899.965,"y":0.96},{"x":899.98,"y":1.08},{"x":899.99,"y":0.95}]},"mark":{"type":"line","color":"#1a1ae6","strokeWidth":1},"encoding":{"x":{"field":"x","type":"quantitative","scale":{"domain":[899,900],"range":[211.7,325.7],"nice":false,"zero":false},"axis":{"zindex":1,"orient":"bottom","offset":-122.3,"values":[899,899.5,900],"format":".1~f","tickSize":-2,"labelPadding":4,"labelFontSize":8,"title":"Time (s)","titleFontSize":9,"titlePadding":-1}},"y":{"field":"y","type":"quantitative","scale":{"domain":[0,2],"range":[467.7,434.3],"nice":false,"zero":false},"axis":{"zindex":1,"orient":"left","offset":-211.7,"values":[0,1,2],"format":"d","tickSize":-2,"labelPadding":3,"labelFontSize":8,"title":"σ","titleFontSize":8,"titlePadding":4}}}},
{"data":{"values":[{"x":0,"y":0}]},"mark":{"type":"point","opacity":0},"encoding":{"x":{"field":"x","type":"quantitative","scale":{"domain":[899,900],"range":[211.7,325.7],"nice":false,"zero":false},"axis":{"zindex":1,"orient":"top","offset":-434.3,"values":[899,899.5,900],"tickSize":-2,"labels":false,"title":null}},"y":{"field":"y","type":"quantitative","scale":{"domain":[0,2],"range":[467.7,434.3],"nice":false,"zero":false},"axis":{"zindex":1,"orient":"right","offset":-374.3,"values":[0,1,2],"tickSize":-2,"labels":false,"title":null}}}},
{"data":{"values":[{"b":0.495,"e":0.5,"c":11},{"b":0.5,"e":0.505,"c":12},{"b":0.505,"e":0.51,"c":35},{"b":0.51,"e":0.515,"c":73},{"b":0.515,"e":0.52,"c":92},{"b":0.52,"e":0.525,"c":121},{"b":0.525,"e":0.53,"c":128},{"b":0.53,"e":0.535,"c":94},{"b":0.535,"e":0.54,"c":74},{"b":0.54,"e":0.545,"c":46},{"b":0.545,"e":0.55,"c":40},{"b":0.55,"e":0.555,"c":32},{"b":0.555,"e":0.56,"c":23},{"b":0.56,"e":0.565,"c":29},{"b":0.565,"e":0.57,"c":12},{"b":0.57,"e":0.575,"c":12},{"b":0.575,"e":0.58,"c":9},{"b":0.58,"e":0.585,"c":11},{"b":0.585,"e":0.59,"c":6},{"b":0.59,"e":0.595,"c":8},{"b":0.595,"e":0.6,"c":6},{"b":0.6,"e":0.605,"c":6},{"b":0.605,"e":0.61,"c":8},{"b":0.61,"e":0.615,"c":5},{"b":0.615,"e":0.62,"c":6},{"b":0.62,"e":0.625,"c":3},{"b":0.625,"e":0.63,"c":3},{"b":0.63,"e":0.635,"c":2},{"b":0.635,"e":0.64,"c":6},{"b":0.64,"e":0.645,"c":3},{"b":0.645,"e":0.65,"c":4},{"b":0.65,"e":0.655,"c":2},{"b":0.655,"e":0.66,"c":5},{"b":0.66,"e":0.665,"c":2},{"b":0.665,"e":0.67,"c":5},{"b":0.67,"e":0.675,"c":5},{"b":0.675,"e":0.68,"c":2},{"b":0.68,"e":0.685,"c":2},{"b":0.685,"e":0.69,"c":3},{"b":0.69,"e":0.695,"c":1},{"b":0.695,"e":0.7,"c":3},{"b":0.7,"e":0.705,"c":3},{"b":0.705,"e":0.71,"c":3},{"b":0.71,"e":0.715,"c":3},{"b":0.715,"e":0.72,"c":4},{"b":0.72,"e":0.725,"c":7},{"b":0.725,"e":0.73,"c":1},{"b":0.73,"e":0.735,"c":1},{"b":0.735,"e":0.74,"c":1},{"b":0.74,"e":0.745,"c":2},{"b":0.745,"e":0.75,"c":1},{"b":0.755,"e":0.76,"c":4},{"b":0.76,"e":0.765,"c":1},{"b":0.77,"e":0.775,"c":4},{"b":0.79,"e":0.795,"c":1},{"b":0.795,"e":0.8,"c":3},{"b":0.8,"e":0.805,"c":2},{"b":0.805,"e":0.81,"c":1},{"b":0.81,"e":0.815,"c":1},{"b":0.815,"e":0.82,"c":1},{"b":0.82,"e":0.825,"c":1},{"b":0.825,"e":0.83,"c":1},{"b":0.83,"e":0.835,"c":1},{"b":0.845,"e":0.85,"c":1},{"b":0.885,"e":0.89,"c":1},{"b":0.89,"e":0.895,"c":1}]},"mark":{"type":"rect","color":"#00007f","stroke":"#000050","strokeWidth":0.4},"encoding":{"x":{"field":"b","type":"quantitative","scale":{"domain":[0.4,0.9],"range":[419.3,688.3],"nice":false,"zero":false},"axis":{"zindex":1,"orient":"bottom","offset":-34.7,"values":[0.4,0.5,0.6,0.7,0.8,0.9],"format":".1f","tickSize":-3,"labelPadding":8,"labelFontSize":13,"title":"DFA α","titleFontSize":15,"titlePadding":0}},"x2":{"field":"e"},"y":{"field":"c","type":"quantitative","scale":{"domain":[0,150],"range":[555.3,346.7],"nice":false,"zero":false},"axis":{"zindex":1,"orient":"left","offset":-419.3,"values":[0,50,100,150],"tickSize":-3,"labelPadding":6,"labelFontSize":13,"title":"Count","titleFontSize":14.5,"titlePadding":6}},"y2":{"datum":0}}},
{"data":{"values":[{"x":0.4,"y":0}]},"mark":{"type":"point","opacity":0},"encoding":{"x":{"field":"x","type":"quantitative","scale":{"domain":[0.4,0.9],"range":[419.3,688.3],"nice":false,"zero":false},"axis":{"zindex":1,"orient":"top","offset":-346.7,"values":[0.4,0.5,0.6,0.7,0.8,0.9],"tickSize":-3,"labels":false,"title":null}},"y":{"field":"y","type":"quantitative","scale":{"domain":[0,150],"range":[555.3,346.7],"nice":false,"zero":false},"axis":{"zindex":1,"orient":"right","offset":-11.7,"values":[0,50,100,150],"tickSize":-3,"labels":false,"title":null}}}},
{"data":{"values":[{"x":0.0014,"y":0.9746,"t":"A"},{"x":0.5436,"y":0.9746,"t":"B"},{"x":0.0014,"y":0.4441,"t":"C"},{"x":0.5429,"y":0.4441,"t":"D"}]},"mark":{"type":"text","font":"Liberation Sans","fontWeight":"bold","fontSize":13,"align":"left","baseline":"alphabetic","color":"black"},"encoding":{"x":{"field":"x","type":"quantitative","axis":null,"scale":{"domain":[0,1],"range":[0,700],"nice":false,"zero":false}},"y":{"field":"y","type":"quantitative","axis":null,"scale":{"domain":[0,1],"range":[590,0],"nice":false,"zero":false}},"text":{"field":"t"}}}
],
"resolve":{"scale":{"x":"independent","y":"independent"}}}
